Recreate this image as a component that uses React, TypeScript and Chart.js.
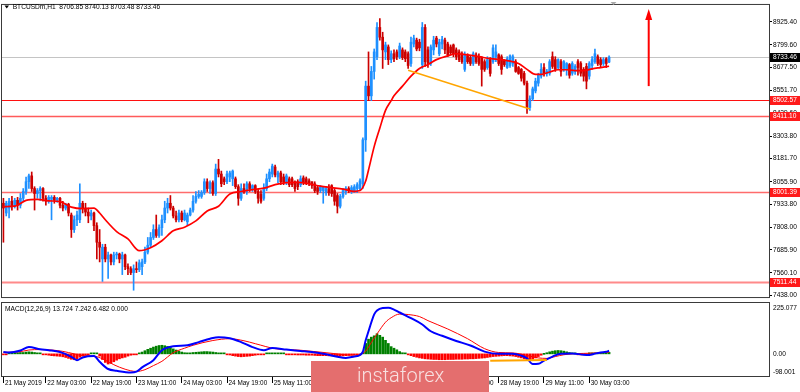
import React, { useEffect, useRef } from 'react';
import { Chart, registerables } from 'chart.js';

Chart.register(...registerables);

const FONT = "'Liberation Sans', Arial, sans-serif";
const FS = 6.6;

// ---------- texts ----------
const symbolTitle = 'BTCUSDm,H1  8706.85 8740.13 8703.48 8733.46';
const macdTitle = 'MACD(12,26,9) 13.724 7.242 6.482 0.000';
const logoText = 'instaforex';

// ---------- categories (hourly bars from 21 May 2019 12:00) ----------
const startTimeUTC = Date.UTC(2019, 4, 21, 12);
const slotCount = 271; // bars + empty chart shift on the right
const monthNames = ['Jan', 'Feb', 'Mar', 'Apr', 'May', 'Jun', 'Jul', 'Aug', 'Sep', 'Oct', 'Nov', 'Dec'];
const barTimes = Array.from({ length: slotCount }, (_, i) => {
  const d = new Date(startTimeUTC + i * 3600000);
  return `${d.getUTCDate()} ${monthNames[d.getUTCMonth()]} ${String(d.getUTCHours()).padStart(2, '0')}:00`;
});

// x axis labels
const xTickIdx = [0, 15, 31, 47, 63, 79, 95, 111, 127, 143, 159, 175, 191, 207];
const xTickText = ['21 May 2019', '22 May 03:00', '22 May 19:00', '23 May 11:00', '24 May 03:00', '24 May 19:00',
  '25 May 11:00', '26 May 03:00', '26 May 19:00', '27 May 11:00', '28 May 03:00', '28 May 19:00',
  '29 May 11:00', '30 May 03:00'];

// price axis
const priceTicks = [8925.40, 8799.60, 8677.50, 8551.70, 8429.60, 8303.80, 8181.70, 8055.90, 7933.80, 7808.00, 7685.90, 7560.10, 7438.00];
const priceMin = 7429.0;
const priceMax = 9017.3;

// ---------- OHLC ----------
const opens = [
  7939, 7886, 7913, 7950, 7923, 7955, 7928, 7966, 8003, 8056,
  8088, 8019, 7992, 8008, 8019, 7966, 7950, 7960, 7971, 7955,
  7966, 7928, 7913, 7934, 7875, 7796, 7849, 7849, 7939, 7913,
  7891, 7870, 7886, 7817, 7727, 7636, 7700, 7636, 7658, 7620,
  7658, 7663, 7636, 7658, 7594, 7583, 7562, 7583, 7578, 7594,
  7620, 7673, 7711, 7753, 7796, 7764, 7806, 7849, 7913, 7939,
  7913, 7870, 7849, 7886, 7849, 7838, 7875, 7902, 7950, 7976,
  7976, 7997, 8056, 8019, 8051, 7992, 8125, 8098, 8072, 8056,
  8082, 8072, 8072, 8029, 7966, 8019, 8003, 8045, 8019, 8035,
  8003, 7987, 7966, 8019, 8072, 8098, 8136, 8082, 8104, 8082,
  8056, 8072, 8072, 8056, 8056, 8040, 8077, 8072, 8061, 8056,
  8045, 8024, 8008, 8008, 7997, 8019, 8035, 8008, 7981, 7923,
  7976, 8003, 8019, 8003, 8008, 8019, 8019, 8045, 8284, 8576,
  8523, 8656, 8736, 8895, 8842, 8762, 8789, 8720, 8752, 8762,
  8736, 8773, 8762, 8752, 8699, 8805, 8826, 8815, 8693, 8895,
  8773, 8699, 8773, 8837, 8752, 8805, 8826, 8805, 8789, 8800,
  8773, 8762, 8752, 8667, 8741, 8731, 8699, 8746, 8736, 8731,
  8709, 8677, 8720, 8709, 8736, 8746, 8736, 8715, 8677, 8688,
  8699, 8709, 8677, 8667, 8645, 8592, 8460, 8507, 8550, 8592,
  8630, 8677, 8646, 8646, 8736, 8720, 8677, 8709, 8667, 8667,
  8693, 8646, 8656, 8709, 8699, 8667, 8683, 8630, 8688, 8709,
  8736, 8720, 8699, 8725, 8706.85,
];
const highs = [
  7966, 7950, 7966, 7976, 7966, 7971, 7992, 8019, 8082, 8098,
  8109, 8029, 8019, 8029, 8024, 7981, 7981, 7981, 7981, 7971,
  7971, 7950, 7939, 7939, 7886, 7870, 7897, 8045, 7950, 7939,
  7913, 7902, 7891, 7833, 7796, 7716, 7716, 7673, 7663, 7673,
  7673, 7668, 7673, 7663, 7610, 7594, 7604, 7620, 7631, 7636,
  7700, 7753, 7780, 7822, 7875, 7822, 7875, 7950, 7966, 7981,
  7923, 7897, 7902, 7897, 7902, 7886, 7913, 7981, 8003, 8008,
  8008, 8072, 8072, 8061, 8061, 8152, 8178, 8114, 8082, 8114,
  8114, 8120, 8082, 8040, 8045, 8045, 8056, 8056, 8040, 8040,
  8013, 8008, 8045, 8098, 8125, 8152, 8146, 8114, 8114, 8098,
  8098, 8082, 8082, 8061, 8067, 8088, 8088, 8082, 8072, 8056,
  8056, 8035, 8035, 8029, 8029, 8040, 8040, 8019, 7992, 7987,
  8019, 8029, 8029, 8035, 8040, 8051, 8072, 8295, 8603, 8762,
  8683, 8778, 8922, 8943, 8869, 8815, 8800, 8768, 8773, 8773,
  8810, 8784, 8773, 8762, 8842, 8853, 8837, 8831, 8922, 8911,
  8789, 8800, 8847, 8847, 8831, 8847, 8837, 8815, 8800, 8805,
  8784, 8773, 8762, 8762, 8752, 8741, 8762, 8757, 8752, 8736,
  8720, 8736, 8731, 8800, 8800, 8752, 8746, 8720, 8736, 8746,
  8746, 8720, 8683, 8672, 8656, 8603, 8523, 8571, 8619, 8646,
  8699, 8699, 8667, 8720, 8762, 8736, 8725, 8720, 8715, 8704,
  8699, 8709, 8693, 8720, 8709, 8677, 8699, 8709, 8736, 8778,
  8746, 8731, 8731, 8731, 8740.13,
];
const lows = [
  7727, 7870, 7859, 7902, 7913, 7902, 7913, 7950, 7987, 8019,
  8003, 7902, 7966, 7955, 7950, 7928, 7939, 7849, 7939, 7944,
  7913, 7897, 7902, 7870, 7753, 7780, 7817, 7833, 7886, 7870,
  7833, 7849, 7790, 7636, 7620, 7514, 7620, 7530, 7604, 7604,
  7636, 7615, 7551, 7578, 7551, 7551, 7466, 7562, 7567, 7551,
  7610, 7663, 7700, 7742, 7753, 7753, 7764, 7833, 7886, 7902,
  7859, 7838, 7838, 7838, 7843, 7817, 7870, 7891, 7939, 7966,
  7966, 7987, 8003, 7992, 7981, 7981, 8082, 8029, 8040, 8045,
  8056, 8035, 8019, 7928, 7955, 7992, 7987, 8003, 8003, 7992,
  7939, 7939, 7955, 8008, 8056, 8082, 8082, 8051, 8040, 8040,
  8040, 8029, 8029, 8003, 8013, 8029, 8040, 8040, 8035, 8019,
  7997, 7987, 7997, 7939, 7981, 7981, 7976, 7928, 7886, 7913,
  7966, 7987, 7997, 7992, 7997, 7997, 8008, 8019, 8221, 8497,
  8497, 8614, 8720, 8826, 8672, 8720, 8693, 8704, 8709, 8720,
  8725, 8720, 8709, 8672, 8683, 8789, 8768, 8768, 8672, 8683,
  8677, 8688, 8746, 8789, 8741, 8778, 8752, 8736, 8746, 8736,
  8720, 8709, 8699, 8656, 8699, 8688, 8688, 8699, 8688, 8576,
  8656, 8667, 8630, 8699, 8709, 8688, 8640, 8683, 8672, 8677,
  8683, 8651, 8640, 8603, 8582, 8428, 8444, 8497, 8539, 8576,
  8619, 8630, 8630, 8635, 8672, 8656, 8667, 8630, 8656, 8635,
  8619, 8635, 8640, 8635, 8630, 8603, 8561, 8614, 8667, 8699,
  8688, 8677, 8688, 8677, 8703.48,
];
const closes = [
  7913, 7939, 7950, 7923, 7955, 7928, 7966, 8003, 8056, 8088,
  8019, 7992, 8008, 8019, 7966, 7950, 7971, 7971, 7955, 7966,
  7928, 7913, 7934, 7886, 7796, 7849, 7875, 7939, 7913, 7891,
  7870, 7886, 7817, 7727, 7700, 7700, 7636, 7658, 7620, 7658,
  7663, 7636, 7658, 7594, 7583, 7562, 7583, 7578, 7615, 7620,
  7673, 7711, 7753, 7796, 7764, 7806, 7849, 7913, 7939, 7913,
  7870, 7849, 7886, 7849, 7886, 7875, 7902, 7950, 7976, 7987,
  7997, 8056, 8019, 8051, 7992, 8125, 8098, 8045, 8056, 8098,
  8104, 8114, 8029, 7966, 8019, 8003, 8045, 8019, 8035, 8003,
  7966, 7950, 8019, 8072, 8109, 8141, 8093, 8104, 8056, 8056,
  8088, 8040, 8040, 8019, 8029, 8072, 8051, 8051, 8045, 8035,
  8008, 8003, 8029, 8029, 8019, 7997, 7992, 7950, 7923, 7976,
  8008, 8019, 8008, 8024, 8029, 8040, 8061, 8284, 8576, 8523,
  8656, 8762, 8895, 8842, 8773, 8800, 8720, 8752, 8725, 8736,
  8794, 8731, 8725, 8688, 8815, 8837, 8778, 8784, 8895, 8709,
  8699, 8789, 8826, 8805, 8815, 8831, 8773, 8746, 8757, 8752,
  8736, 8720, 8709, 8746, 8709, 8699, 8752, 8709, 8699, 8667,
  8667, 8720, 8645, 8784, 8762, 8699, 8667, 8693, 8725, 8741,
  8736, 8656, 8645, 8619, 8592, 8460, 8507, 8561, 8603, 8635,
  8667, 8646, 8656, 8709, 8683, 8667, 8720, 8656, 8709, 8699,
  8635, 8699, 8683, 8677, 8646, 8630, 8603, 8699, 8720, 8752,
  8699, 8693, 8720, 8699, 8733.46,
];
const lastPrice = 8733.46;

// moving average (bar index, value)
const maPoints: [number, number][] = [
  [0, 7921], [4, 7923], [8, 7955], [12, 7960], [16, 7952], [20, 7948], [24, 7918], [28, 7910], [32, 7913],
  [34, 7886], [36, 7849], [40, 7785], [44, 7745], [48, 7681], [52, 7697], [56, 7735], [60, 7789], [64, 7809],
  [68, 7843], [72, 7897], [76, 7923], [80, 7989], [84, 8003], [88, 8013], [92, 8021], [96, 8040], [100, 8051],
  [104, 8053], [108, 8045], [112, 8032], [116, 8024], [120, 8016], [124, 8004], [126, 8008], [128, 8060],
  [129, 8120], [131, 8247], [133, 8348], [135, 8444], [137, 8497], [138, 8523], [141, 8576], [144, 8630],
  [147, 8672], [150, 8693], [153, 8720], [157, 8741], [160, 8752], [164, 8746], [168, 8736], [172, 8725],
  [178, 8715], [182, 8699], [185, 8667], [188, 8640], [190, 8640], [193, 8653], [196, 8665], [199, 8665],
  [202, 8660], [205, 8660], [208, 8670], [211, 8677], [214, 8684],
];

// horizontal levels
const levelValues = [8502.57, 8411.10, 8001.39, 7511.44];
const levelLabels = ['8502.57', '8411.10', '8001.39', '7511.44'];
const levelColors = ['#ff1010', '#ff5a5a', '#ff6c6c', '#ff8a8a'];
const levelWidths = [1.2, 1.6, 1.6, 2];

// trend line on price and arrow
const trendIdx = [143, 186];
const trendVals = [8662, 8452];
const arrowIndex = 228;
const arrowFrom = 8576;
const arrowTo = 8996;

// ---------- MACD ----------
const histValues = [
  -3, -2, 2, 3, 4, 5, 6,
  6, 8, 9, 8, 6, 4, 2,
  -2, -4, -6, -8, -9, -10, -11,
  -13, -16, -20, -24, -26, -22, -15,
  -10, -6, -3, 2,
  2, 1, -10, -25,
  -38, -45, -42, -35, -28,
  -22, -18, -15, -10, -6, -3, -1,
  3, 8, 14, 20, 25,
  30, 34, 37, 38, 36, 33,
  28, 22, 17, 12, 8, 5,
  3, 4, 6, 7, 8, 9, 10, 10, 9, 8, 6, 4, 2, 1,
  -3, -5, -8, -10, -12, -13, -12, -11, -10, -8, -6, -4, -2, -1,
  2, 3, 4, 3, 2, 1, 1, -1,
  -2, -3, -4, -5, -5, -5, -6, -6, -6, -7, -8, -8, -8, -8, -9, -9, -10, -10, -10, -9, -8, -7, -6, -4, -2, -1,
  5, 46, 65, 74, 80, 89, 82, 74, 60, 46, 32, 25, 18, 10, 5, 1,
  -3, -8, -12, -15, -18, -20, -22, -23,
  -24, -25, -25, -26, -26, -26, -25, -25, -25, -24, -24, -24, -23, -23, -22, -22, -21, -20, -19, -18,
  -16, -14, -12, -11, -10, -9, -8, -8, -9, -10,
  -12, -15, -18, -22, -26, -28, -24, -18, -12,
  -6, 0, 5, 9, 12, 14, 15, 14, 12, 9, 6, 3,
  1, -1, -2, -3, -2, 1, 2, 3, 4, 3, 5, 6, 6.482,
];
const macdPoints: [number, number][] = [
  [0, 8], [2, 6], [6, 15], [9, 30], [13, 20], [16, 16], [20, 8], [24, -13], [26, -28], [28, -16], [32, -10],
  [34, -35], [37, -67], [40, -75], [45, -83], [47, -79], [49, -60], [53, -28], [56, 16], [60, 34], [65, 38],
  [69, 52], [73, 67], [76, 74], [80, 69], [84, 52], [88, 30], [92, 16], [95, 26], [100, 19], [105, 13],
  [109, 8], [114, -2], [118, -13], [121, -18], [124, -12], [126, -5], [127, 10], [128, 60], [129, 100],
  [130, 140], [131, 175], [132, 192], [134, 203], [136, 204], [138, 196], [140, 183], [144, 158], [148, 130],
  [151, 100], [155, 80], [160, 57], [165, 37], [170, 10], [175, 0], [180, 1], [183, -8], [185, -20], [187, -45],
  [189, -44], [191, -30], [194, -12], [197, 1], [201, 2], [205, -4], [207, -5], [209, 1], [211, 6], [213, 9],
  [214, 13.724],
];
const signalPoints: [number, number][] = [
  [0, 7], [5, 8], [9, 17], [13, 19], [17, 17], [21, 11], [25, 0], [28, -8], [32, -10], [35, -22], [39, -48],
  [43, -68], [47, -78], [50, -70], [53, -52], [56, -33], [60, 5], [64, 25], [67, 38], [74, 59], [80, 67],
  [85, 58], [89, 45], [96, 23], [105, 16], [114, 5], [124, -6], [126, -3], [128, 12], [130, 50], [132, 88],
  [135, 140], [137, 160], [140, 176], [143, 174], [147, 165], [150, 147], [157, 110], [164, 67], [170, 23],
  [175, 6], [180, 4], [186, -10], [189, -18], [192, -20], [195, -12], [198, -4], [201, 0], [205, 2], [210, 4],
  [214, 7.242],
];
const macdTrendIdx = [172, 192];
const macdTrendVals = [-31, -27];
const macdMin = -98.001;
const macdMax = 225.077;
const macdLabels = ['225.077', '0.00', '-98.001'];

// ---------- colours ----------
const BULL = '#1e90ff';
const BEAR = '#cc0000';

function sparse(points: [number, number][]) {
  const arr: (number | null)[] = new Array(slotCount).fill(null);
  points.forEach(([i, v]) => { arr[i] = v; });
  return arr;
}

function drawBox(ctx: CanvasRenderingContext2D, y: number, text: string, bg: string) {
  ctx.fillStyle = bg;
  ctx.fillRect(770, Math.round(y) - 4, 30, 9);
  ctx.fillStyle = '#ffffff';
  ctx.font = `${FS}px ${FONT}`;
  ctx.textBaseline = 'middle';
  ctx.textAlign = 'left';
  ctx.fillText(text, 773, Math.round(y) + 0.5);
}

const mainOverlay = {
  id: 'mainOverlay',
  beforeDatasetsDraw(chart: any) {
    const { ctx, chartArea: a, scales: { y } } = chart;
    ctx.save();
    ctx.beginPath();
    ctx.rect(a.left, a.top, a.right - a.left, a.bottom - a.top);
    ctx.clip();
    const py = Math.round(y.getPixelForValue(lastPrice)) + 0.5;
    ctx.strokeStyle = '#c4c4c4';
    ctx.lineWidth = 1;
    ctx.beginPath(); ctx.moveTo(a.left, py); ctx.lineTo(a.right, py); ctx.stroke();
    levelValues.forEach((v, i) => {
      const ly = Math.round(y.getPixelForValue(v)) + 0.5;
      ctx.strokeStyle = levelColors[i];
      ctx.lineWidth = levelWidths[i];
      ctx.beginPath(); ctx.moveTo(a.left, ly); ctx.lineTo(a.right, ly); ctx.stroke();
    });
    ctx.restore();
  },
  afterDraw(chart: any) {
    const { ctx, chartArea: a, scales: { x, y } } = chart;
    ctx.save();
    // arrow
    const ax = x.getPixelForValue(arrowIndex);
    const y0 = y.getPixelForValue(arrowFrom);
    const y1 = y.getPixelForValue(arrowTo);
    ctx.strokeStyle = '#ff0000';
    ctx.fillStyle = '#ff0000';
    ctx.lineWidth = 2;
    ctx.beginPath(); ctx.moveTo(ax, y0); ctx.lineTo(ax, y1 + 8); ctx.stroke();
    ctx.beginPath(); ctx.moveTo(ax, y1); ctx.lineTo(ax - 3.5, y1 + 11); ctx.lineTo(ax + 3.5, y1 + 11); ctx.closePath(); ctx.fill();
    // frame
    ctx.strokeStyle = '#3a3a3a';
    ctx.lineWidth = 1;
    ctx.strokeRect(a.left - 0.5, a.top - 0.5, a.right - a.left + 1, a.bottom - a.top + 1);
    // chart shift marker
    ctx.fillStyle = '#a8a8a8';
    ctx.beginPath(); ctx.moveTo(610.5, 2); ctx.lineTo(616.5, 2); ctx.lineTo(613.5, 5); ctx.closePath(); ctx.fill();
    // title
    ctx.fillStyle = '#000';
    ctx.beginPath(); ctx.moveTo(4.5, 5.5); ctx.lineTo(9, 5.5); ctx.lineTo(6.75, 8.5); ctx.closePath(); ctx.fill();
    ctx.font = `${FS}px ${FONT}`;
    ctx.textBaseline = 'middle';
    ctx.textAlign = 'left';
    ctx.fillText(symbolTitle, 12.7, 7.5);
    // price boxes
    drawBox(ctx, y.getPixelForValue(lastPrice), lastPrice.toFixed(2), '#000000');
    levelValues.forEach((v, i) => drawBox(ctx, y.getPixelForValue(v), levelLabels[i], '#ff1a1a'));
    ctx.restore();
  },
};

const macdOverlay = {
  id: 'macdOverlay',
  afterDraw(chart: any) {
    const { ctx, chartArea: a, scales: { y } } = chart;
    ctx.save();
    ctx.strokeStyle = '#3a3a3a';
    ctx.lineWidth = 1;
    ctx.strokeRect(a.left - 0.5, a.top - 0.5, a.right - a.left + 1, a.bottom - a.top + 1);
    ctx.fillStyle = '#000';
    ctx.font = `${FS}px ${FONT}`;
    ctx.textAlign = 'left';
    ctx.textBaseline = 'middle';
    ctx.fillText(macdTitle, 5, 7);
    ctx.fillText(macdLabels[0], 773, y.getPixelForValue(macdMax) + 5);
    ctx.fillText(macdLabels[1], 773, y.getPixelForValue(0));
    ctx.fillText(macdLabels[2], 773, y.getPixelForValue(macdMin) - 4);
    // logo
    ctx.fillStyle = '#e46e6e';
    ctx.fillRect(311, 59, 178, 31);
    ctx.fillStyle = '#f8e0e0';
    ctx.font = `300 20px Roboto, 'Open Sans', sans-serif`;
    ctx.textBaseline = 'alphabetic';
    ctx.fillText(logoText, 357, 80);
    ctx.restore();
  },
};

export default function App() {
  const mainRef = useRef<HTMLCanvasElement>(null);
  const macdRef = useRef<HTMLCanvasElement>(null);

  useEffect(() => {
    document.body.style.margin = '0';
    Chart.defaults.font.family = FONT;
    const candleColors = opens.map((o, i) => (closes[i] >= o ? BULL : BEAR));
    const trendData: (number | null)[] = new Array(slotCount).fill(null);
    trendIdx.forEach((ix, k) => { trendData[ix] = trendVals[k]; });
    const macdTrendData: (number | null)[] = new Array(slotCount).fill(null);
    macdTrendIdx.forEach((ix, k) => { macdTrendData[ix] = macdTrendVals[k]; });

    const main = new Chart(mainRef.current!, {
      type: 'bar',
      data: {
        labels: barTimes,
        datasets: [
          { type: 'line', data: trendData, borderColor: '#ffa500', borderWidth: 1.5, pointRadius: 0, spanGaps: true, order: 0 } as any,
          { type: 'line', data: sparse(maPoints), borderColor: '#ff0000', borderWidth: 1.7, pointRadius: 0, spanGaps: true, cubicInterpolationMode: 'monotone', order: 1 } as any,
          { type: 'bar', data: opens.map((o, i) => [o, closes[i]]), backgroundColor: candleColors, barThickness: 2, minBarLength: 1, grouped: false, order: 2 } as any,
          { type: 'bar', data: lows.map((l, i) => [l, highs[i]]), backgroundColor: candleColors, barThickness: 1, grouped: false, order: 3 } as any,
        ],
      },
      options: {
        responsive: false,
        animation: false,
        devicePixelRatio: 1,
        events: [],
        layout: { padding: { left: 2, top: 2, right: 0, bottom: 1 } },
        plugins: { legend: { display: false }, tooltip: { enabled: false } },
        scales: {
          x: { display: false, offset: true },
          y: {
            position: 'right',
            min: priceMin,
            max: priceMax,
            afterBuildTicks: (s: any) => { s.ticks = priceTicks.map((v) => ({ value: v })); },
            afterFit: (s: any) => { s.width = 31; },
            ticks: { font: { family: FONT, size: FS }, color: '#000', padding: 1, callback: (v: any) => Number(v).toFixed(2) },
            grid: { display: true, drawOnChartArea: false, drawTicks: true, tickLength: 3, color: '#000' },
            border: { display: false },
          },
        },
      } as any,
      plugins: [mainOverlay],
    });

    const macd = new Chart(macdRef.current!, {
      type: 'bar',
      data: {
        labels: barTimes,
        datasets: [
          { type: 'line', data: macdTrendData, borderColor: '#ffa500', borderWidth: 2, pointRadius: 0, spanGaps: true, order: 0 } as any,
          { type: 'line', data: sparse(macdPoints), borderColor: '#0000ff', borderWidth: 2, pointRadius: 0, spanGaps: true, cubicInterpolationMode: 'monotone', order: 1 } as any,
          { type: 'line', data: sparse(signalPoints), borderColor: '#ff0000', borderWidth: 1, pointRadius: 0, spanGaps: true, cubicInterpolationMode: 'monotone', order: 2 } as any,
          { type: 'bar', data: histValues, backgroundColor: histValues.map((v) => (v >= 0 ? '#008000' : '#ff0000')), barThickness: 2, minBarLength: 1, order: 3 } as any,
        ],
      },
      options: {
        responsive: false,
        animation: false,
        devicePixelRatio: 1,
        events: [],
        layout: { padding: { left: 2, top: 1, right: 0, bottom: 0 } },
        plugins: { legend: { display: false }, tooltip: { enabled: false } },
        scales: {
          x: {
            offset: true,
            afterFit: (s: any) => { s.height = 16; },
            ticks: {
              autoSkip: false,
              maxRotation: 0,
              minRotation: 0,
              align: 'start',
              labelOffset: 1.5,
              padding: -4,
              color: '#000',
              font: { family: FONT, size: 6.4 },
              callback: (_v: any, i: number) => {
                const k = xTickIdx.indexOf(i);
                return k >= 0 ? xTickText[k] : '';
              },
            },
            grid: {
              display: true,
              drawOnChartArea: false,
              drawTicks: true,
              tickLength: 7,
              offset: false,
              color: (c: any) => (xTickIdx.includes(c.index) ? '#000' : 'rgba(0,0,0,0)'),
              lineWidth: (c: any) => (xTickIdx.includes(c.index) ? 1 : 0),
            },
            border: { display: false },
          },
          y: {
            position: 'right',
            min: macdMin,
            max: macdMax,
            afterFit: (s: any) => { s.width = 31; },
            ticks: { display: false },
            grid: { display: false },
            border: { display: false },
          },
        },
      } as any,
      plugins: [macdOverlay],
    });

    return () => { main.destroy(); macd.destroy(); };
  }, []);

  return (
    <div style={{ position: 'relative', width: 800, height: 392, background: '#fff', overflow: 'hidden' }}>
      <canvas ref={mainRef} width={800} height={302} style={{ position: 'absolute', left: 0, top: 0, width: 800, height: 302 }} />
      <canvas ref={macdRef} width={800} height={90} style={{ position: 'absolute', left: 0, top: 302, width: 800, height: 90 }} />
    </div>
  );
}
